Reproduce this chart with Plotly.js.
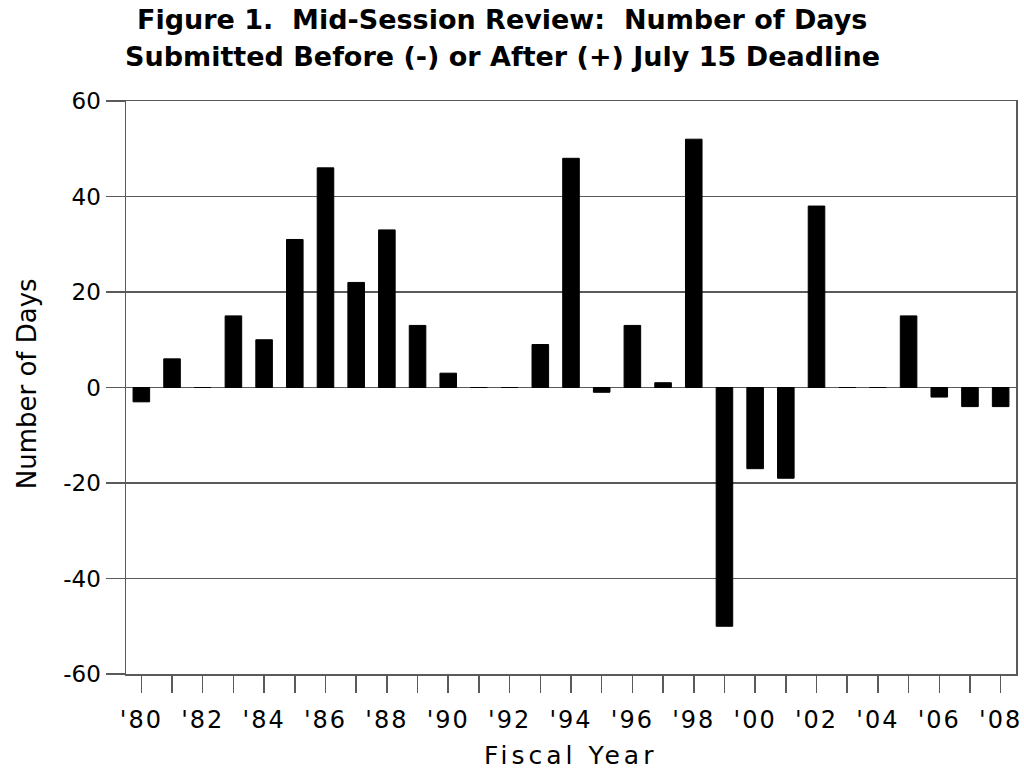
<!DOCTYPE html>
<html>
<head>
<meta charset="utf-8">
<script src="https://cdn.plot.ly/plotly-3.0.1.min.js"></script>
<style>html,body{margin:0;padding:0;background:#fff;}#chart{width:1024px;height:771px;}</style>
</head>
<body>
<div id="chart"></div>
<script>
const years = [1980,1981,1982,1983,1984,1985,1986,1987,1988,1989,1990,1991,1992,1993,1994,1995,1996,1997,1998,1999,2000,2001,2002,2003,2004,2005,2006,2007,2008];
const days = [-3,6,0,15,10,31,46,22,33,13,3,0,0,9,48,-1,13,1,52,-50,-17,-19,38,0,0,15,-2,-4,-4];
const tickLabels = ["'80","","'82","","'84","","'86","","'88","","'90","","'92","","'94","","'96","","'98","","'00","","'02","","'04","","'06","","'08"];
const yTicks = [-60,-40,-20,0,20,40,60];
const yTickLabels = ["-60","-40","-20","0","20","40","60"];
const titleLines = ["Figure 1.  Mid-Session Review:  Number of Days", "Submitted Before (-) or After (+) July 15 Deadline"];
const xTitle = "Fiscal Year";
const yTitle = "Number of Days";

const FONT = 'DejaVu Sans, Arial, sans-serif';
const lineColor = '#5a5a5a';
const trace = {
  type: 'bar',
  x: years,
  y: days,
  width: 0.54,
  marker: {color: '#000000', line: {color: '#000000', width: 1}},
  hoverinfo: 'x+y'
};
const layout = {
  width: 1024, height: 771,
  paper_bgcolor: '#ffffff', plot_bgcolor: '#ffffff',
  margin: {l: 126, r: 8, t: 101, b: 97},
  showlegend: false,
  font: {family: FONT, color: '#000000'},
  xaxis: {
    range: [1979.5, 2008.5],
    tickmode: 'array', tickvals: years, ticktext: tickLabels,
    ticks: 'outside', ticklen: 17, tickwidth: 1.5, tickcolor: lineColor,
    ticklabelstandoff: 7,
    tickfont: {size: 24, family: FONT},
    showgrid: false, zeroline: false,
    showline: true, linecolor: lineColor, linewidth: 1.5, mirror: true
  },
  yaxis: {
    range: [-60, 60],
    tickmode: 'array', tickvals: yTicks, ticktext: yTickLabels,
    ticks: 'outside', ticklen: 19, tickwidth: 1.5, tickcolor: lineColor,
    tickfont: {size: 23, family: FONT},
    showgrid: true, gridcolor: lineColor, gridwidth: 1.5,
    zeroline: true, zerolinecolor: lineColor, zerolinewidth: 1.5,
    showline: true, linecolor: lineColor, linewidth: 1.5, mirror: true
  },
  annotations: [
    {text: '<b>' + titleLines[0] + '</b>', xref: 'paper', yref: 'paper', x: 0.4225, y: 1.143,
     xanchor: 'center', yanchor: 'middle', showarrow: false, font: {size: 27, family: FONT}},
    {text: '<b>' + titleLines[1] + '</b>', xref: 'paper', yref: 'paper', x: 0.4225, y: 1.078,
     xanchor: 'center', yanchor: 'middle', showarrow: false, font: {size: 27, family: FONT}},
    {text: xTitle, xref: 'paper', yref: 'paper', x: 0.5, y: -0.143,
     xanchor: 'center', yanchor: 'middle', showarrow: false, font: {size: 25, family: FONT}},
    {text: yTitle, xref: 'paper', yref: 'paper', x: -0.111, y: 0.506, textangle: -90,
     xanchor: 'center', yanchor: 'middle', showarrow: false, font: {size: 26, family: FONT}}
  ]
};
Plotly.newPlot('chart', [trace], layout, {displayModeBar: false, staticPlot: true}).then(function () {
  document.querySelectorAll('.xtick text').forEach(function (t) { t.style.letterSpacing = '2px'; });
  document.querySelectorAll('.annotation-text').forEach(function (t) {
    if (t.textContent === xTitle) t.style.letterSpacing = '4px';
  });
});
</script>
</body>
</html>
